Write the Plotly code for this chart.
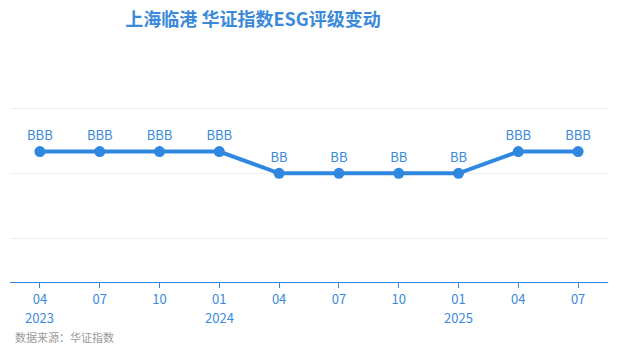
import plotly.graph_objects as go

# Data
periods = ["2023-04", "2023-07", "2023-10", "2024-01", "2024-04",
           "2024-07", "2024-10", "2025-01", "2025-04", "2025-07"]
month_labels = ["04", "07", "10", "01", "04", "07", "10", "01", "04", "07"]
year_labels = {"2023-04": "2023", "2024-01": "2024", "2025-01": "2025"}
ratings = ["BBB", "BBB", "BBB", "BBB", "BB", "BB", "BB", "BB", "BBB", "BBB"]
rating_scale = {"B": 3, "BB": 4, "BBB": 5, "A": 6}

y_vals = [rating_scale[r] for r in ratings]

blue = "#2f87e0"
text_blue = "#3b8ad9"
font_family = "Noto Sans CJK SC, Noto Sans, sans-serif"

fig = go.Figure()
fig.add_trace(go.Scatter(
    x=periods, y=y_vals, mode="lines+markers+text",
    text=ratings, textposition="top center",
    textfont=dict(size=13, color=text_blue, family=font_family),
    line=dict(color=blue, width=4),
    marker=dict(color=blue, size=11),
    hoverinfo="skip", showlegend=False, cliponaxis=False,
))

annotations = []
for p, yr in year_labels.items():
    annotations.append(dict(text=yr, x=p, xref="x", y=0, yref="paper",
                            yshift=-35, yanchor="middle", xanchor="center",
                            showarrow=False,
                            font=dict(size=13, color=text_blue, family=font_family)))
annotations.append(dict(text="数据来源：华证指数", xref="paper", yref="paper",
                        x=0, y=0, xshift=3, yshift=-55, xanchor="left",
                        yanchor="middle", showarrow=False,
                        font=dict(size=11, color="#999999", family=font_family)))

fig.update_layout(
    width=618, height=355,
    margin=dict(l=10, r=10, t=107, b=73),
    paper_bgcolor="white", plot_bgcolor="white",
    font=dict(family=font_family),
    title=dict(text="<b>上海临港 华证指数ESG评级变动</b>",
               x=253 / 618, xanchor="center", xref="container",
               y=1 - 20 / 355, yanchor="middle", yref="container",
               font=dict(size=18, color=text_blue, family=font_family)),
    xaxis=dict(type="category", tickmode="array", tickvals=periods,
               ticktext=month_labels, range=[-0.5, 9.5],
               showline=True, linecolor=blue, linewidth=1,
               ticks="outside", ticklen=5, tickcolor=blue,
               tickfont=dict(size=13, color=text_blue, family=font_family),
               showgrid=False, zeroline=False, fixedrange=True),
    yaxis=dict(range=[-1, 7.05], tickmode="array", tickvals=[1, 4, 7],
               showticklabels=False, showgrid=True, gridcolor="#efefef",
               gridwidth=1, zeroline=False, showline=False, fixedrange=True),
    annotations=annotations,
)

fig.write_html("out.html")
